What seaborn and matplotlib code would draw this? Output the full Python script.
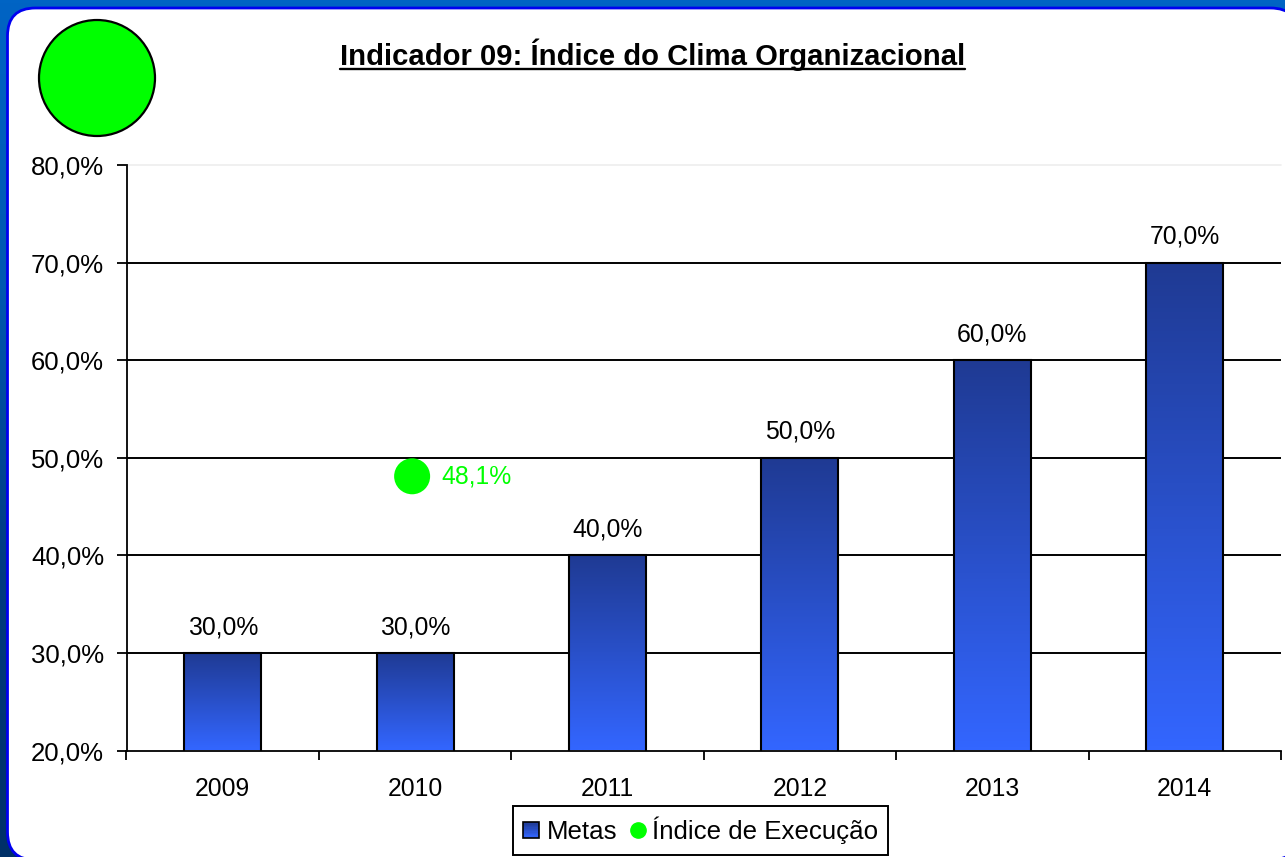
import numpy as np
import pandas as pd
import matplotlib
matplotlib.use("Agg")
import matplotlib.pyplot as plt
import seaborn as sns
from matplotlib.colors import LinearSegmentedColormap
from matplotlib.legend_handler import HandlerBase
from matplotlib.lines import Line2D
from matplotlib.patches import Circle, FancyBboxPatch, Rectangle
from matplotlib.transforms import Affine2D

years = ["2009", "2010", "2011", "2012", "2013", "2014"]
metas = [30.0, 30.0, 40.0, 50.0, 60.0, 70.0]
exec_year = ["2010"]
execucao = [48.1]
y_ticks = [20, 30, 40, 50, 60, 70, 80]
title = "Indicador 09: Índice do Clima Organizacional"
serie_metas = "Metas"
serie_exec = "Índice de Execução"

W, H = 1285, 857
sns.set_theme(style="white")
plt.rcParams["font.family"] = ["Liberation Sans", "DejaVu Sans"]

def pct(v):
    return f"{v:.1f}%".replace(".", ",")

fig = plt.figure(figsize=(W / 100, H / 100), dpi=100)
px = Affine2D().scale(1, -1).translate(0, H)

# background
bg = fig.add_axes([0, 0, 1, 1], zorder=0)
bg.axis("off")
bg_cmap = LinearSegmentedColormap.from_list("bg", ["#0064C4", "#0058B0", "#003A80", "#003068"])
bg.imshow(np.linspace(0, 1, 256)[:, None], cmap=bg_cmap, aspect="auto", extent=[0, 1, 0, 1], origin="upper")
panel = FancyBboxPatch((7.5, 8), 1291, 852, boxstyle="round,pad=0,rounding_size=28",
                       transform=px, facecolor="white", edgecolor="#0000F0", linewidth=2, zorder=1)
fig.add_artist(panel)
fig.add_artist(Circle((97, 78), 58, transform=px, facecolor="#00FF00", edgecolor="black", linewidth=1.6, zorder=2))

# chart
ax = fig.add_axes([126.5 / W, (H - 750.5) / H, (1281 - 126.5) / W, (750.5 - 165) / H], zorder=3)
ax.patch.set_alpha(0)
df = pd.DataFrame({"ano": years, "meta": metas})
sns.barplot(data=df, x="ano", y="meta", order=years, width=0.4, color="#3366FF",
            edgecolor="black", linewidth=1.5, ax=ax, zorder=3, saturation=1)
df2 = pd.DataFrame({"ano": exec_year, "valor": execucao})
sns.scatterplot(data=df2, x="ano", y="valor", ax=ax, s=(36 * 0.72) ** 2, color="#00FF00",
                edgecolor="none", zorder=4, clip_on=False)
dots = ax.collections[-1]
dots.set_offset_transform(ax.transData + Affine2D().translate(-3, 0))

ax.set_xlim(-0.5, len(years) - 0.5)
ax.set_ylim(y_ticks[0], y_ticks[-1])
ax.set_xlabel("")
ax.set_ylabel("")

# gradient fill clipped to each bar
grad = LinearSegmentedColormap.from_list("bar", ["#1F3A93", "#3366FF"])
for bar in list(ax.containers[0]):
    x0, y0, w, h = bar.get_x(), bar.get_y(), bar.get_width(), bar.get_height()
    y_base = y_ticks[0]
    im = ax.imshow(np.linspace(0, 1, 128)[:, None], cmap=grad, aspect="auto",
                   extent=[x0, x0 + w, y_base, y0 + h], origin="upper", zorder=2.9)
    im.set_clip_path(bar)
    bar.set_facecolor("none")
ax.set_xlim(-0.5, len(years) - 0.5)
ax.set_ylim(y_ticks[0], y_ticks[-1])

ax.bar_label(ax.containers[0], labels=[pct(v) for v in metas], padding=10, fontsize=17.8, color="black", zorder=5)
for yr, v in zip(exec_year, execucao):
    ax.annotate(pct(v), xy=(years.index(yr), v), xytext=(19, 0), textcoords="offset points",
                va="center", ha="left", fontsize=17.8, color="#00FF00", zorder=5)

# axes, ticks, grid
ax.set_yticks(y_ticks)
ax.set_yticklabels([pct(v) for v in y_ticks], fontsize=18.5)
ax.set_xticks(np.arange(len(years) + 1) - 0.5)
ax.set_xticklabels([])
ax.set_xticks(np.arange(len(years)), labels=years, minor=True, fontsize=17.8)
ax.tick_params(axis="x", which="major", length=6.5, width=1.3, color="black", direction="out", bottom=True)
ax.tick_params(axis="x", which="minor", length=0, pad=19, labelcolor="black")
ax.tick_params(axis="y", length=7.2, width=1.3, color="black", direction="out", left=True, pad=9, labelcolor="black")
ax.set_axisbelow(True)
for y in y_ticks[1:-1]:
    ax.axhline(y, color="black", linewidth=1.4, zorder=1)
ax.axhline(y_ticks[-1], color="#EEEEEE", linewidth=1.2, zorder=1, clip_on=False)
sns.despine(ax=ax, top=True, right=True)
ax.spines["left"].set_color("black")
ax.spines["bottom"].set_color("black")
ax.spines["left"].set_linewidth(1.3)
ax.spines["bottom"].set_linewidth(1.3)
ax.spines["left"].set_zorder(6)

# legend
class GradientSquare(HandlerBase):
    def create_artists(self, legend, orig, xd, yd, width, height, fontsize, trans):
        side = 11.5
        x0 = -xd
        y0 = -yd + (height - side) / 2
        n = 12
        cols = grad(np.linspace(0, 1, n))
        parts = [Rectangle((x0, y0 + side * (n - 1 - i) / n), side, side / n + 0.1,
                           facecolor=cols[i], edgecolor="none", transform=trans) for i in range(n)]
        parts.append(Rectangle((x0, y0), side, side, facecolor="none", edgecolor="black",
                               linewidth=1.2, transform=trans))
        return parts

h_bar = Rectangle((0, 0), 1, 1)
h_dot = Line2D([], [], linestyle="none", marker="o", markersize=11, color="#00FF00")
leg = fig.legend([h_bar, h_dot], [serie_metas, serie_exec], handler_map={h_bar: GradientSquare()},
                 ncol=2, loc="center", bbox_to_anchor=(700.5 / W, (H - 830.5) / H), fontsize=18.6,
                 frameon=True, fancybox=False, framealpha=1, facecolor="white", edgecolor="black",
                 borderpad=0.4, handlelength=0.75, handletextpad=0.17, columnspacing=0.42, labelcolor="black")
leg.get_frame().set_linewidth(1.4)
leg.set_zorder(7)

# title with underline
t = fig.text(652.5 / W, (H - 55) / H, title, ha="center", va="center", fontsize=21.05,
             fontweight="bold", color="black", zorder=8)
fig.canvas.draw()
bb = t.get_window_extent()
fig.add_artist(Line2D([bb.x0, bb.x1], [H - 69, H - 69], transform=None, color="black", linewidth=1.7, zorder=8))

fig.savefig("out.png", dpi=100)
